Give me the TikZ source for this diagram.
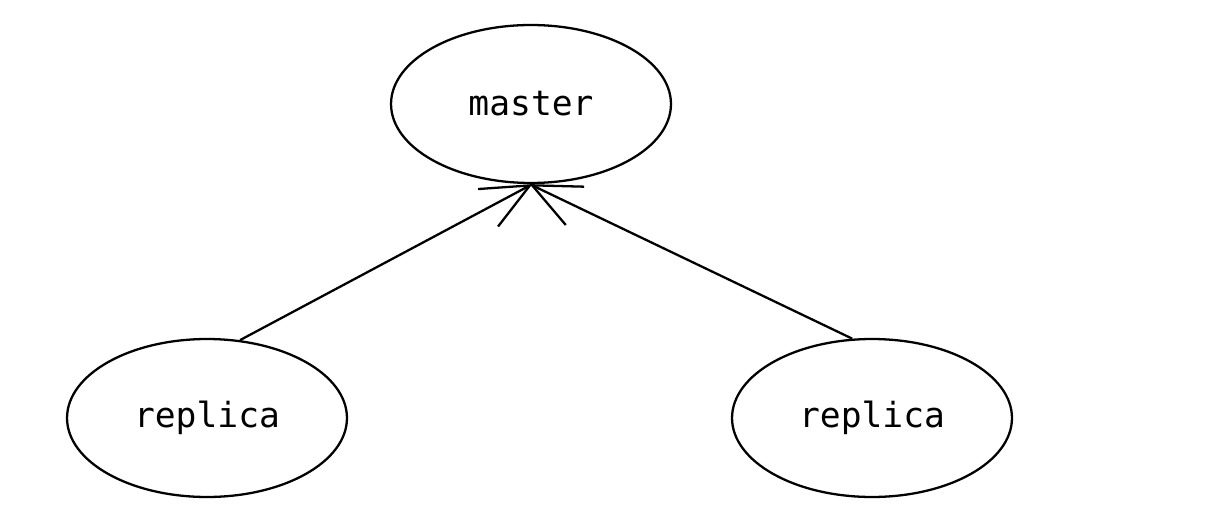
\documentclass[tikz,border=0pt]{standalone}
\usepackage{fontspec}
\setmonofont{DejaVu Sans Mono}
\usetikzlibrary{shapes.geometric,arrows.meta}

\begin{document}
\begin{tikzpicture}[x=0.02cm,y=-0.02cm,
  sketchnode/.style={draw,ellipse,line width=1.3pt,minimum width=5.6cm,minimum height=3.16cm,
    font=\fontsize{19.7}{22}\selectfont\ttfamily},
  sketcharrow/.style={line width=1.3pt,-{Straight Barb[length=0.95cm,width=0.85cm,line width=1.3pt]}}]
\useasboundingbox (0,0) rectangle (1223,530);

% master on top, the two copies below
\node[sketchnode] (master) at (531,104) {master};
\node[sketchnode] (replicaleft) at (207,418) {replica};
\node[sketchnode] (replicaright) at (872,418) {replica};

\draw[sketcharrow] (replicaleft.67) -- (master.-89);
\draw[sketcharrow] (replicaright.104) -- (master.-91);

\end{tikzpicture}
\end{document}
